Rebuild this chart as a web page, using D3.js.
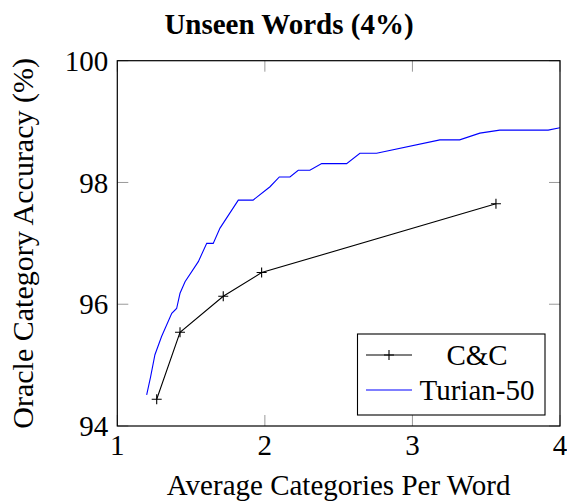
<!DOCTYPE html>
<html>
<head>
<meta charset="utf-8">
<script src="https://cdn.jsdelivr.net/npm/d3@7"></script>
<style>
  body { margin: 0; background: #fff; }
</style>
</head>
<body>
<div id="chart"></div>
<script>
// C&C supertagger points
var ccX = [1.267, 1.425, 1.718, 1.978, 3.566];
var ccY = [94.44, 95.54, 96.13, 96.52, 97.65];

// Turian-50 curve
var turianX = [1.199, 1.226, 1.255, 1.300, 1.369, 1.402, 1.425, 1.459, 1.549, 1.606,
               1.650, 1.696, 1.820, 1.920, 2.035, 2.098, 2.170, 2.226, 2.305, 2.385,
               2.554, 2.644, 2.757, 3.186, 3.320, 3.457, 3.592, 3.920, 4.000];
var turianY = [94.51, 94.81, 95.17, 95.47, 95.85, 95.93, 96.18, 96.37, 96.70, 97.00,
               97.00, 97.25, 97.71, 97.71, 97.93, 98.09, 98.09, 98.20, 98.20, 98.31,
               98.31, 98.48, 98.48, 98.70, 98.70, 98.81, 98.86, 98.86, 98.90];

var xTicks = [1, 2, 3, 4];
var yTicks = [94, 96, 98, 100];
var seriesNames = ["C&C", "Turian-50"];

var width = 567, height = 502;
var margin = {left: 117.3, right: 7, top: 60.7, bottom: 76};
var fs = 29;
var font = "'Times New Roman', 'Liberation Serif', Times, serif";

var svg = d3.select("#chart").append("svg")
    .attr("width", width)
    .attr("height", height)
    .attr("font-family", font);

var x = d3.scaleLinear().domain([1, 4]).range([margin.left, width - margin.right]);
var y = d3.scaleLinear().domain([94, 100]).range([height - margin.bottom, margin.top]);

//title
svg.append("text")
    .attr("x", 289)
    .attr("y", 34)
    .attr("text-anchor", "middle")
    .style("font-weight", "bold")
    .style("font-size", fs + "px")
    .text("Unseen Words (4%)");

//ticks, inward on all four sides
var tickLen = 11;
var tickColor = "#999";
var g = svg.append("g");
xTicks.forEach(t => {
    g.append("line").attr("x1", x(t)).attr("x2", x(t))
        .attr("y1", y(94)).attr("y2", y(94) - tickLen)
        .attr("stroke", tickColor);
    g.append("line").attr("x1", x(t)).attr("x2", x(t))
        .attr("y1", y(100)).attr("y2", y(100) + tickLen)
        .attr("stroke", tickColor);
    svg.append("text")
        .attr("x", x(t))
        .attr("y", 455)
        .attr("text-anchor", "middle")
        .style("font-size", fs + "px")
        .text(t);
});
yTicks.forEach(t => {
    g.append("line").attr("x1", x(1)).attr("x2", x(1) + tickLen)
        .attr("y1", y(t)).attr("y2", y(t))
        .attr("stroke", tickColor);
    g.append("line").attr("x1", x(4)).attr("x2", x(4) - tickLen)
        .attr("y1", y(t)).attr("y2", y(t))
        .attr("stroke", tickColor);
    svg.append("text")
        .attr("x", x(1) - 9)
        .attr("y", y(t))
        .attr("dy", "0.35em")
        .attr("text-anchor", "end")
        .style("font-size", fs + "px")
        .text(t);
});

//axis labels
svg.append("text")
    .attr("x", x(2.5))
    .attr("y", 495)
    .attr("text-anchor", "middle")
    .style("font-size", fs + "px")
    .text("Average Categories Per Word");

svg.append("text")
    .attr("transform", "translate(33," + ((y(94) + y(100)) / 2) + ") rotate(-90)")
    .attr("text-anchor", "middle")
    .style("font-size", "30px")
    .text("Oracle Category Accuracy (%)");

//clip
svg.append("clipPath").attr("id", "plotclip")
    .append("rect")
    .attr("x", x(1)).attr("y", y(100))
    .attr("width", x(4) - x(1)).attr("height", y(94) - y(100));

var line = d3.line().x(d => x(d[0])).y(d => y(d[1]));
var plot = svg.append("g").attr("clip-path", "url(#plotclip)");

plot.append("path")
    .datum(d3.zip(turianX, turianY))
    .attr("d", line)
    .attr("fill", "none")
    .attr("stroke", "#0000ff")
    .attr("stroke-width", 1.1);

plot.append("path")
    .datum(d3.zip(ccX, ccY))
    .attr("d", line)
    .attr("fill", "none")
    .attr("stroke", "#000")
    .attr("stroke-width", 1.1);

function plusMark(sel, cx, cy) {
    var r = 5;
    sel.append("path")
        .attr("d", "M" + (cx - r) + "," + cy + "H" + (cx + r) + "M" + cx + "," + (cy - r) + "V" + (cy + r))
        .attr("stroke", "#000")
        .attr("stroke-width", 1.1);
}
d3.zip(ccX, ccY).forEach(d => plusMark(plot, x(d[0]), y(d[1])));

//frame
svg.append("rect")
    .attr("x", x(1)).attr("y", y(100))
    .attr("width", x(4) - x(1)).attr("height", y(94) - y(100))
    .attr("fill", "none")
    .attr("stroke", "#000")
    .attr("stroke-width", 1.2);

//legend
var legend = svg.append("g");
legend.append("rect")
    .attr("x", 357.5).attr("y", 334)
    .attr("width", 187.5).attr("height", 81)
    .attr("fill", "#fff")
    .attr("stroke", "#000")
    .attr("stroke-width", 1.1);
var rows = [355, 390];
var colors = ["#000", "#0000ff"];
seriesNames.forEach((name, i) => {
    legend.append("line")
        .attr("x1", 366).attr("x2", 412)
        .attr("y1", rows[i]).attr("y2", rows[i])
        .attr("stroke", colors[i])
        .attr("stroke-width", 1.1);
    if (i == 0) plusMark(legend, 389, rows[i]);
    legend.append("text")
        .attr("x", 477)
        .attr("y", rows[i])
        .attr("dy", "0.35em")
        .attr("text-anchor", "middle")
        .style("font-size", fs + "px")
        .text(name);
});
</script>
</body>
</html>
